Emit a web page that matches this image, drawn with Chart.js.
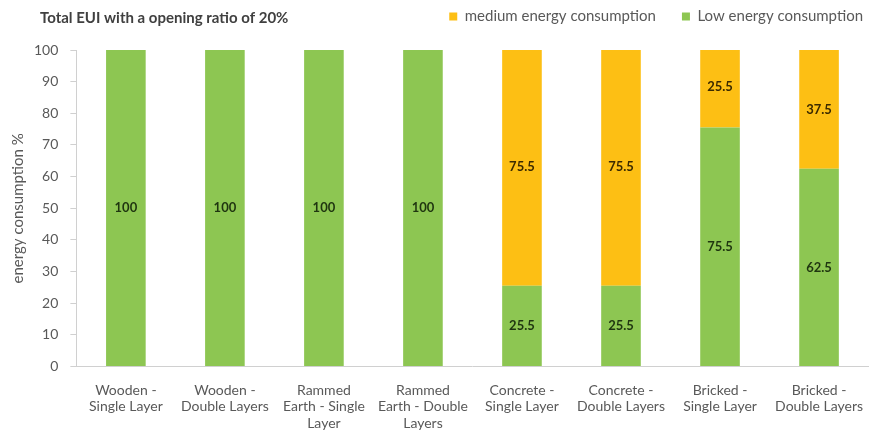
<!DOCTYPE html>
<html>
<head>
<meta charset="utf-8">
<script src="https://cdn.jsdelivr.net/npm/chart.js@4/dist/chart.umd.min.js"></script>
<style>
  body { margin: 0; background: #fff; }
</style>
</head>
<body>
<canvas id="euiChart" width="870" height="437"></canvas>
<script>
// wall types, one bar each
const wallTypes = [
  ["Wooden -", "Single Layer"],
  ["Wooden -", "Double Layers"],
  ["Rammed", "Earth - Single", "Layer"],
  ["Rammed", "Earth - Double", "Layers"],
  ["Concrete -", "Single Layer"],
  ["Concrete -", "Double Layers"],
  ["Bricked -", "Single Layer"],
  ["Bricked -", "Double Layers"]
];

// share of each consumption class, %
const lowEnergy    = [100, 100, 100, 100, 25.5, 25.5, 75.5, 62.5];
const mediumEnergy = [0, 0, 0, 0, 75.5, 75.5, 25.5, 37.5];

const chartTitle = "Total EUI with a opening ratio of 20%";
const yTitle = "energy consumption %";

const FONT = "Lato, 'Open Sans', sans-serif";
const GREY = "#595959";

// value in the middle of each segment + title top left
const labelPlugin = {
  id: "segLabels",
  beforeLayout(chart) {
    // extra gap between legend and plot
    const lg = chart.legend;
    if (lg && !lg._padded) {
      const fit = lg.fit;
      lg.fit = function () {
        fit.call(this);
        this.height += 16;
      };
      lg._padded = true;
    }
  },
  afterDatasetsDraw(chart) {
    const ctx = chart.ctx;
    ctx.save();
    ctx.font = "bold 13px " + FONT;
    ctx.textAlign = "center";
    ctx.textBaseline = "middle";
    chart.data.datasets.forEach((ds, di) => {
      const meta = chart.getDatasetMeta(di);
      meta.data.forEach((bar, i) => {
        const v = ds.data[i];
        if (!v) return;
        ctx.fillStyle = ds.labelColor;
        ctx.fillText(String(v), bar.x, (bar.y + bar.base) / 2);
      });
    });
    ctx.restore();
  },
  afterDraw(chart) {
    const ctx = chart.ctx;
    ctx.save();
    ctx.font = "bold 15px " + FONT;
    ctx.fillStyle = "#404040";
    ctx.textAlign = "left";
    ctx.textBaseline = "middle";
    ctx.fillText(chartTitle, 40, 18);
    ctx.restore();
  }
};

new Chart(document.getElementById("euiChart"), {
  type: "bar",
  data: {
    labels: wallTypes,
    datasets: [
      {
        label: "Low energy consumption",
        data: lowEnergy,
        backgroundColor: "#8DC652",
        labelColor: "#1f3510"
      },
      {
        label: "medium energy consumption",
        data: mediumEnergy,
        backgroundColor: "#FDBF14",
        labelColor: "#3b2a00"
      }
    ]
  },
  options: {
    responsive: false,
    animation: false,
    barPercentage: 0.5,
    categoryPercentage: 0.8,
    layout: { padding: { left: 5, right: -19, top: -17, bottom: -2 } },
    plugins: {
      legend: {
        position: "top",
        align: "end",
        reverse: true,
        labels: {
          boxWidth: 8,
          boxHeight: 8,
          padding: 26,
          color: GREY,
          font: { family: FONT, size: 15 }
        }
      },
      tooltip: { enabled: false }
    },
    scales: {
      x: {
        stacked: true,
        grid: { display: false },
        border: { color: "#d0d0d0" },
        ticks: {
          color: GREY,
          maxRotation: 0,
          autoSkip: false,
          padding: 7,
          font: { family: FONT, size: 14 }
        }
      },
      y: {
        stacked: true,
        min: 0,
        max: 100,
        grid: { drawOnChartArea: false, tickLength: 6, color: "#d0d0d0" },
        border: { color: "#d0d0d0" },
        ticks: {
          stepSize: 10,
          color: GREY,
          padding: 12,
          font: { family: FONT, size: 14 }
        },
        title: {
          display: true,
          text: yTitle,
          color: GREY,
          padding: { top: 4, bottom: -5 },
          font: { family: FONT, size: 15 }
        }
      }
    }
  },
  plugins: [labelPlugin]
});
</script>
</body>
</html>
